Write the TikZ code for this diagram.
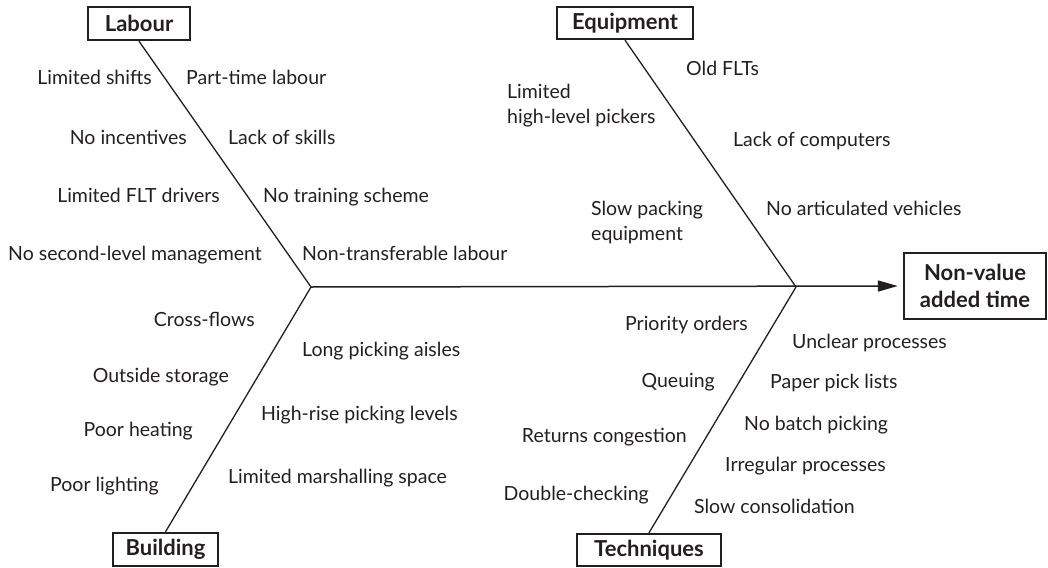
\documentclass[tikz,border=0pt]{standalone}
\usepackage{fontspec}
\setmainfont{Lato}
\usetikzlibrary{arrows.meta}
\definecolor{ink}{HTML}{231F20}
\begin{document}
\begin{tikzpicture}[x=1pt,y=-1pt,
  cat/.style={draw=ink,line width=2.4pt,text=ink,font=\fontsize{22}{27}\selectfont\bfseries,inner sep=0pt,align=center},
  lbl/.style={text=ink,font=\fontsize{19.5}{25}\selectfont,inner sep=0pt,align=left,yshift=-4.5pt},
  lft/.style={lbl,anchor=mid east},
  rgt/.style={lbl,anchor=mid west},
  two/.style={lbl,anchor=west},
  bone/.style={draw=ink,line width=1.3pt},
  spine/.style={draw=ink,line width=1.5pt,-{Triangle[length=20pt,width=11pt]}}]
\useasboundingbox (0,0) rectangle (1048,567);
% category boxes
\node[cat,minimum width=102pt,minimum height=33pt] (labour) at (139,23.5) {Labour};
\node[cat,minimum width=136pt,minimum height=32pt] (equip) at (625,23) {Equipment};
\node[cat,minimum width=105pt,minimum height=33pt] (build) at (165.5,549.5) {Building};
\node[cat,minimum width=144pt,minimum height=32pt] (tech) at (649,550) {Techniques};
\node[cat,minimum width=142pt,minimum height=66pt] (nv) at (975,286) {Non-value\\added time};
% junctions
\coordinate (jL) at (311,287);
\coordinate (jR) at (796,287);
% bones
\draw[bone] (labour.south) -- (jL);
\draw[bone] (jL) -- (build.north);
\draw[bone] (equip.south) -- (jR);
\draw[bone] (jR) -- (tech.north);
\draw[spine,shorten >=5pt] (jL) -- (nv.west);
% Labour
\node[lft] (l1) at (152,77) {Limited shifts};
\node[lft] (l2) at (187,137) {No incentives};
\node[lft] (l3) at (220,195) {Limited FLT drivers};
\node[lft] (l4) at (262,253) {No second-level management};
\node[rgt] (l5) at (186,77) {Part-time labour};
\node[rgt] (l6) at (228,137) {Lack of skills};
\node[rgt] (l7) at (263,195) {No training scheme};
\node[rgt] (l8) at (302,253) {Non-transferable labour};
% Equipment
\node[two] (e1) at (507,101) {Limited\\high-level pickers};
\node[two] (e2) at (591,218) {Slow packing\\equipment};
\node[rgt] (e3) at (686,68) {Old FLTs};
\node[rgt] (e4) at (733,139) {Lack of computers};
\node[rgt] (e5) at (766,208) {No articulated vehicles};
% Building
\node[lft] (b1) at (255,319) {Cross-flows};
\node[lft] (b2) at (229,375) {Outside storage};
\node[lft] (b3) at (193,429) {Poor heating};
\node[lft] (b4) at (159,484) {Poor lighting};
\node[rgt] (b5) at (302,349) {Long picking aisles};
\node[rgt] (b6) at (261,413) {High-rise picking levels};
\node[rgt] (b7) at (228,476) {Limited marshalling space};
% Techniques
\node[lft] (t1) at (748,323) {Priority orders};
\node[lft] (t2) at (715,380) {Queuing};
\node[lft] (t3) at (687,435) {Returns congestion};
\node[lft] (t4) at (649,493) {Double-checking};
\node[rgt] (t5) at (792,341) {Unclear processes};
\node[rgt] (t6) at (770,381) {Paper pick lists};
\node[rgt] (t7) at (744,423) {No batch picking};
\node[rgt] (t8) at (725,464) {Irregular processes};
\node[rgt] (t9) at (694,506) {Slow consolidation};
\end{tikzpicture}
\end{document}
